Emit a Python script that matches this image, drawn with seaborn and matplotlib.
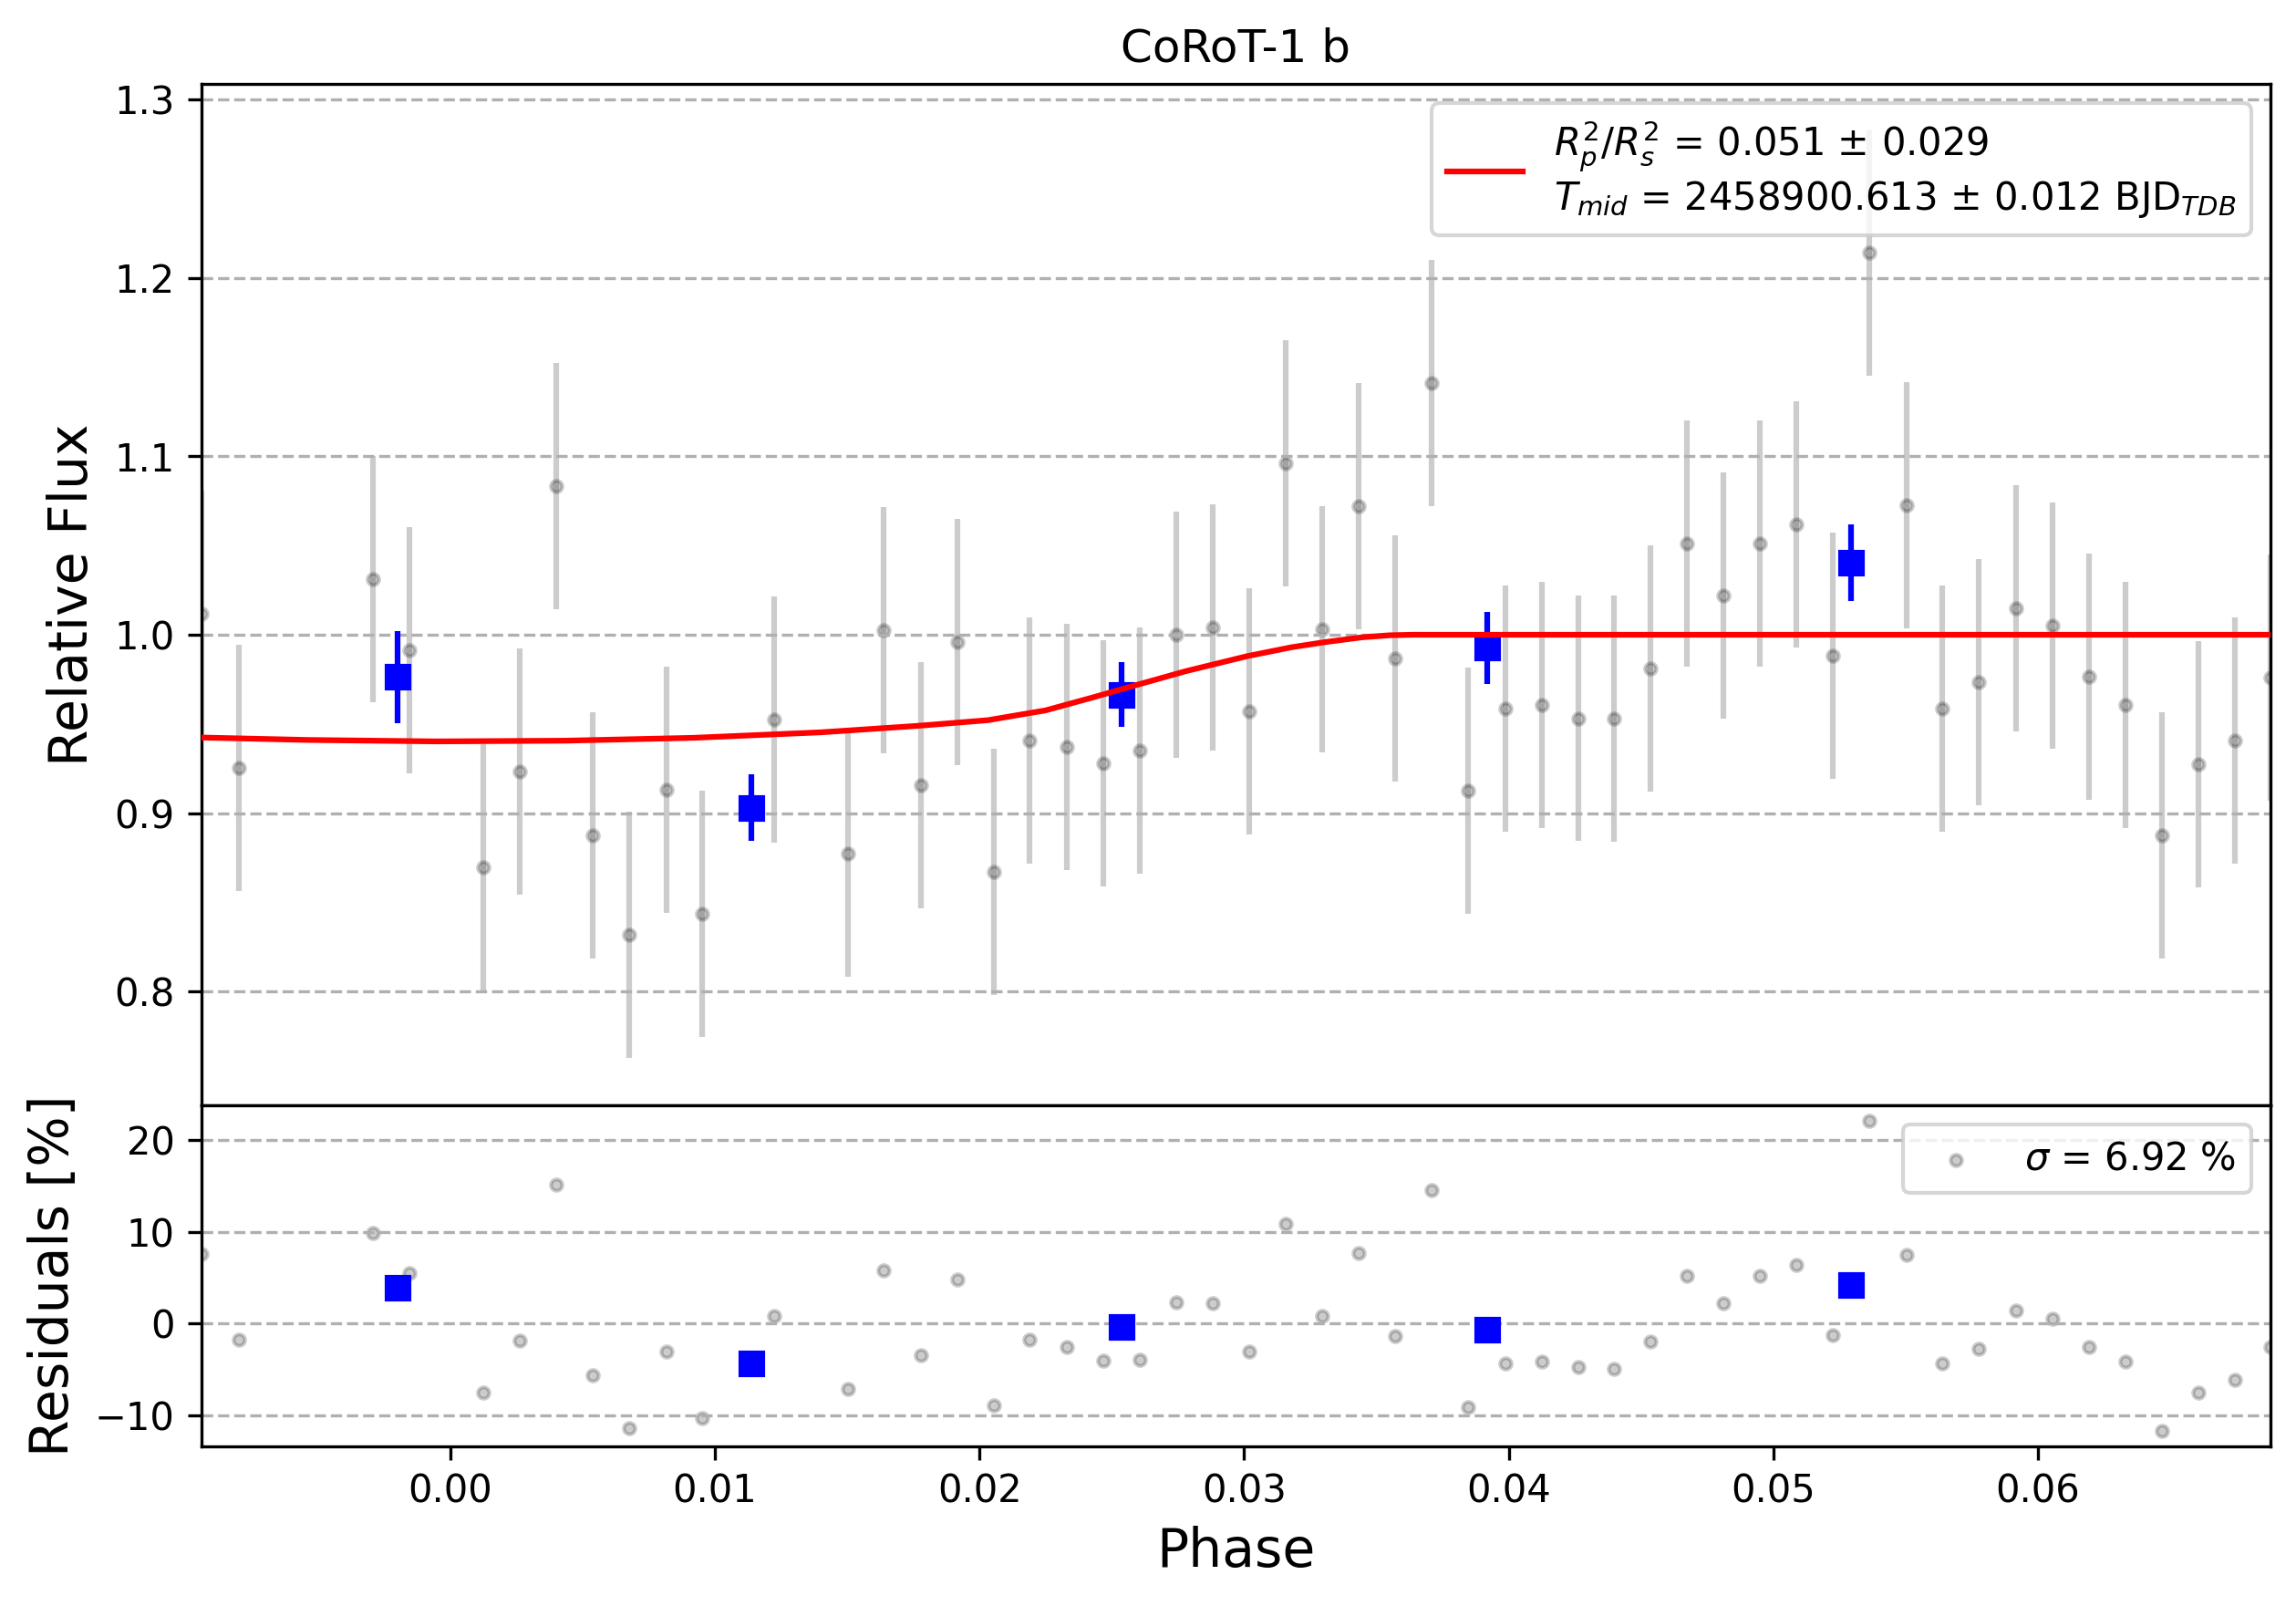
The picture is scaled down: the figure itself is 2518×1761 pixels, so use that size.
#  phase-folded light curve with binned points and residuals
import numpy as np
import matplotlib
matplotlib.use('Agg')
import matplotlib.pyplot as plt
import seaborn as sns

# data ---------------------------------
phase = [-0.009417, -0.007988, -0.002924, -0.001533, 0.001233, 0.002610, 0.004001, 0.005389,
         0.006766, 0.008157, 0.009531, 0.012240, 0.015019, 0.016386, 0.017775, 0.019151,
         0.020540, 0.021903, 0.023293, 0.024684, 0.026060, 0.027434, 0.028812, 0.030201,
         0.031574, 0.032952, 0.034340, 0.035716, 0.037094, 0.038482, 0.039873, 0.041249,
         0.042626, 0.043978, 0.045354, 0.046729, 0.048105, 0.049495, 0.050873, 0.052250,
         0.053638, 0.055026, 0.056400, 0.057775, 0.059164, 0.060553, 0.061927, 0.063302,
         0.064676, 0.066064, 0.067452, 0.068777]
flux = [1.0118, 0.9252, 1.0310, 0.9911, 0.8696, 0.9232, 1.0832, 0.8873,
        0.8317, 0.9129, 0.8435, 0.9523, 0.8775, 1.0025, 0.9158, 0.9961,
        0.8671, 0.9405, 0.9370, 0.9281, 0.9350, 1.0000, 1.0039, 0.9572,
        1.0960, 1.0030, 1.0723, 0.9867, 1.1412, 0.9124, 0.9587, 0.9606,
        0.9532, 0.9528, 0.9813, 1.0512, 1.0221, 1.0512, 1.0620, 0.9882,
        1.2141, 1.0728, 0.9587, 0.9734, 1.0148, 1.0049, 0.9764, 0.9606,
        0.8873, 0.9272, 0.9409, 0.9759]
flux_err = 0.069
resid = [7.57, -1.73, 9.88, 5.47, -7.48, -1.82, 15.15, -5.66,
         -11.41, -3.07, -10.35, 0.86, -7.09, 5.75, -3.45, 4.79,
         -8.92, -1.73, -2.59, -4.03, -3.93, 2.30, 2.21, -3.07,
         10.83, 0.86, 7.67, -1.34, 14.57, -9.11, -4.31, -4.12,
         -4.79, -4.99, -1.92, 5.18, 2.21, 5.18, 6.42, -1.25,
         22.05, 7.48, -4.31, -2.78, 1.44, 0.48, -2.59, -4.12,
         -11.70, -7.57, -6.14, -2.59]

# binned points
bin_phase = [-0.002002, 0.011384, 0.025372, 0.039186, 0.052955]
bin_flux = [0.9764, 0.9030, 0.9665, 0.9926, 1.0404]
bin_err = [0.0258, 0.0187, 0.0182, 0.0202, 0.0214]
bin_resid = [3.93, -4.31, -0.38, -0.67, 4.22]

# transit model curve
model_phase = [-0.00947, -0.00535, -0.00051, 0.00434, 0.00918, 0.01402, 0.01765, 0.02032,
               0.02250, 0.02432, 0.02593, 0.02778, 0.03012, 0.03180, 0.03303, 0.03448,
               0.03550, 0.03640, 0.06878]
model_flux = [0.9424, 0.9410, 0.9402, 0.9406, 0.9422, 0.9453, 0.9489, 0.9521,
              0.9576, 0.9650, 0.9718, 0.9795, 0.9880, 0.9930, 0.9958, 0.9986,
              0.9997, 1.0000, 1.0000]

model_label = ('$R_{p}^{2}/R_{s}^{2}$ = 0.051 $\\pm$ 0.029\n'
               '$T_{mid}$ = 2458900.613 $\\pm$ 0.012 BJD$_{TDB}$')
sigma_label = '$\\sigma$ = 6.92 %'

# plot ---------------------------
f, (ax_lc, ax_res) = plt.subplots(2, 1, figsize=(2518 / 300, 1761 / 300), dpi=300,
                                  gridspec_kw={'height_ratios': [3, 1]}, sharex=True)
f.subplots_adjust(left=0.0876, right=0.9887, top=0.9475, bottom=0.0996, hspace=0)

ax_lc.errorbar(phase, flux, yerr=flux_err, ls='none', marker='.', color='black', zorder=1, alpha=0.2)
ax_lc.errorbar(bin_phase, bin_flux, yerr=bin_err, ls='none', marker='s', color='blue', zorder=2)
sns.lineplot(x=model_phase, y=model_flux, color='red', lw=1.5, zorder=3, label=model_label, ax=ax_lc)
ax_lc.set_title('CoRoT-1 b')
ax_lc.set_ylabel('Relative Flux', fontsize=14)
ax_lc.set_ylim(0.736, 1.3086)
ax_lc.grid(True, axis='y', ls='--')
ax_lc.tick_params(axis='x', bottom=False, labelbottom=False)
ax_lc.legend(loc='upper right')

sns.scatterplot(x=phase, y=resid, marker='o', s=9, color='black', edgecolor='black', linewidth=1,
                alpha=0.2, zorder=1, label=sigma_label, ax=ax_res)
ax_res.plot(bin_phase, bin_resid, 'bs', zorder=2)
ax_res.set_ylabel('Residuals [%]', fontsize=14)
ax_res.set_xlabel('Phase', fontsize=14)
ax_res.set_ylim(-13.35, 23.73)
ax_res.set_yticks([-10, 0, 10, 20])
ax_res.set_xticks([0.0, 0.01, 0.02, 0.03, 0.04, 0.05, 0.06])
ax_res.set_xlim(min(phase), max(phase))
ax_res.grid(True, axis='y', ls='--')
ax_res.legend(loc='upper right')

plt.savefig('out.png', dpi=300)
